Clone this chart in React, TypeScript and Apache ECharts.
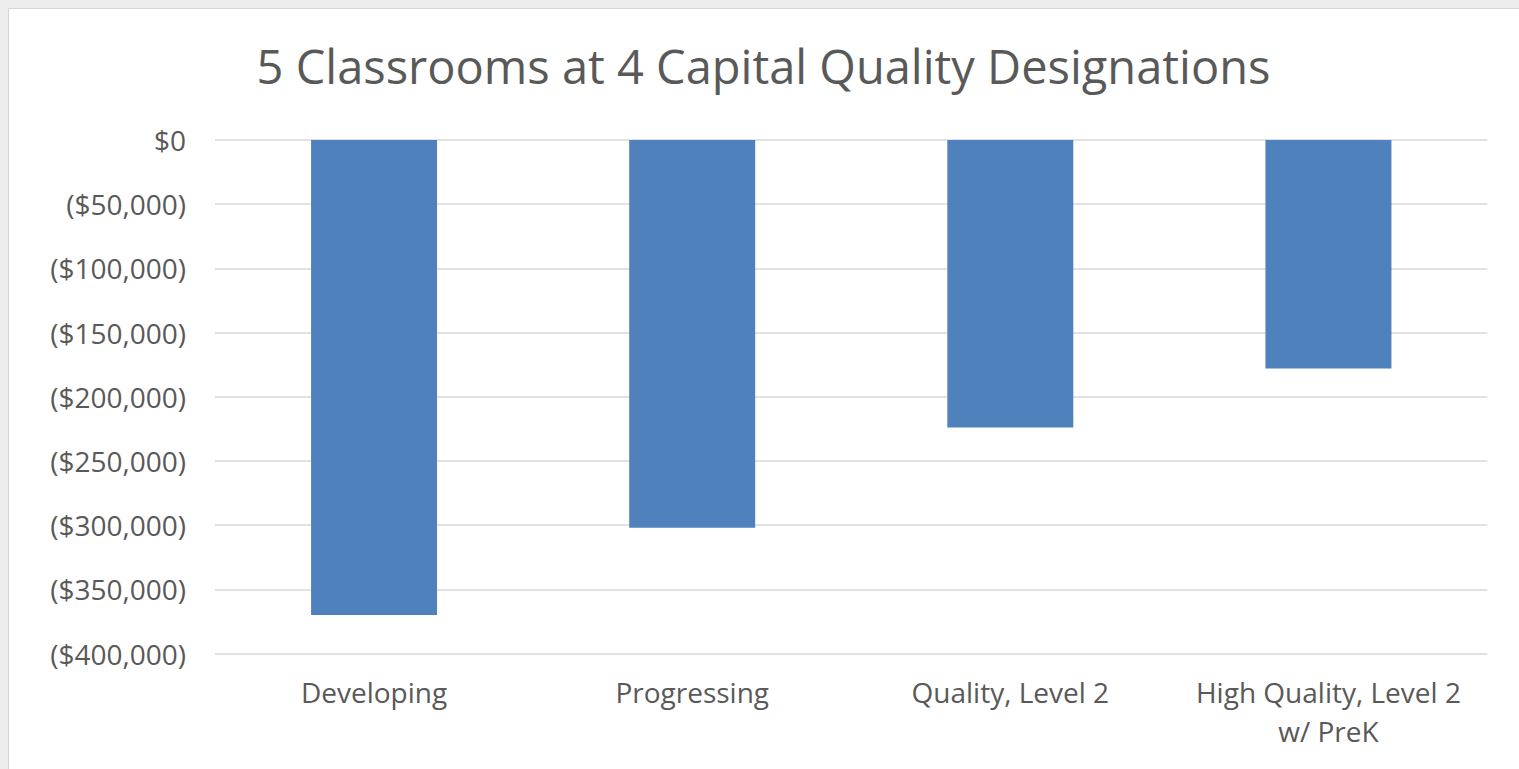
import React, { useEffect, useRef } from "react";
import * as echarts from "echarts";

const categories = ["Developing", "Progressing", "Quality, Level 2", "High Quality, Level 2\nw/ PreK"];
const values = [-370000, -302000, -224000, -178000];
const titleText = "5 Classrooms at 4 Capital Quality Designations";

const fmt = (v: number) => {
  if (v === 0) return "$0";
  const s = Math.abs(v).toLocaleString("en-US");
  return v < 0 ? `($${s})` : `$${s}`;
};

export default function App() {
  const ref = useRef<HTMLDivElement>(null);
  useEffect(() => {
    if (!ref.current) return;
    const chart = echarts.init(ref.current, null, { renderer: "svg" });
    const font = "Open Sans";
    chart.setOption({
      animation: false,
      backgroundColor: "#ffffff",
      title: {
        text: titleText,
        left: "center",
        top: 28,
        textStyle: { fontFamily: font, fontSize: 47, fontWeight: "normal", color: "#595959" },
      },
      grid: { left: 206, right: 30.5, top: 131, bottom: 114.5 },
      xAxis: {
        type: "category",
        data: categories,
        axisLine: { show: false },
        axisTick: { show: false },
        axisLabel: {
          fontFamily: font,
          fontSize: 28,
          color: "#595959",
          margin: 19,
          lineHeight: 39,
          interval: 0,
        },
      },
      yAxis: {
        type: "value",
        min: -400000,
        max: 0,
        interval: 50000,
        axisLine: { show: false },
        axisTick: { show: false },
        splitLine: { lineStyle: { color: "#d9d9d9", width: 1.5 } },
        axisLabel: {
          fontFamily: font,
          fontSize: 28,
          color: "#595959",
          margin: 29,
          formatter: fmt,
        },
      },
      series: [
        {
          type: "bar",
          data: values,
          barWidth: "39.6%",
          itemStyle: { color: "#4f81bd" },
        },
      ],
    });
    return () => chart.dispose();
  }, []);
  return (
    <div style={{ position: "fixed", left: 0, top: 0, width: 1519, height: 769, background: "#ededed" }}>
      <div
        style={{
          position: "absolute",
          left: 8,
          top: 8,
          width: 1511,
          height: 761,
          borderLeft: "1.5px solid #d4d4d4",
          borderTop: "1.5px solid #d4d4d4",
          boxSizing: "border-box",
          background: "#fff",
        }}
      >
        <div ref={ref} style={{ width: 1509, height: 759 }} />
      </div>
    </div>
  );
}
